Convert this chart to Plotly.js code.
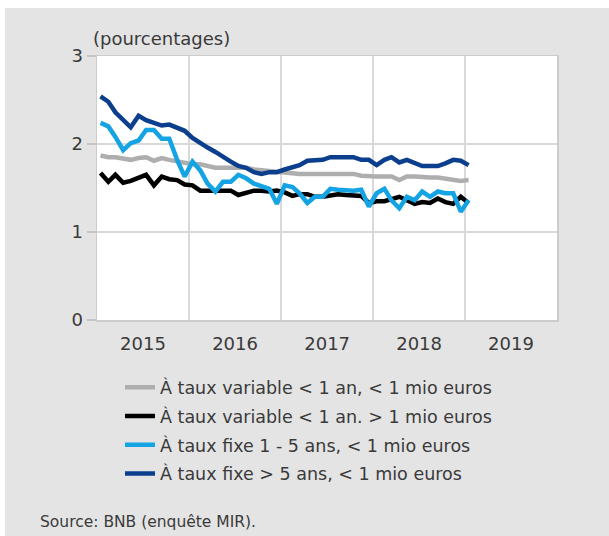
<!DOCTYPE html>
<html>
<head>
<meta charset="utf-8">
<script src="https://cdn.plot.ly/plotly-3.0.1.min.js"></script>
<style>
  html, body { margin: 0; padding: 0; background: #ffffff; width: 609px; height: 536px; overflow: hidden; }
  #chart { position: absolute; left: 5px; top: 8px; width: 604px; height: 528px; }
</style>
</head>
<body>
<div id="chart"></div>
<script>
// Monthly observations, Jan 2015 – Jan 2019
const months = [
  "2015-01-15","2015-02-15","2015-03-15","2015-04-15","2015-05-15","2015-06-15",
  "2015-07-15","2015-08-15","2015-09-15","2015-10-15","2015-11-15","2015-12-15",
  "2016-01-15","2016-02-15","2016-03-15","2016-04-15","2016-05-15","2016-06-15",
  "2016-07-15","2016-08-15","2016-09-15","2016-10-15","2016-11-15","2016-12-15",
  "2017-01-15","2017-02-15","2017-03-15","2017-04-15","2017-05-15","2017-06-15",
  "2017-07-15","2017-08-15","2017-09-15","2017-10-15","2017-11-15","2017-12-15",
  "2018-01-15","2018-02-15","2018-03-15","2018-04-15","2018-05-15","2018-06-15",
  "2018-07-15","2018-08-15","2018-09-15","2018-10-15","2018-11-15","2018-12-15",
  "2019-01-15"
];

const variableSmall = [
  1.87,1.85,1.85,1.84,1.82,1.84,1.85,1.81,1.84,1.82,1.80,1.78,
  1.77,1.77,1.75,1.73,1.73,1.73,1.73,1.73,1.71,1.70,1.70,1.68,
  1.67,1.66,1.66,1.66,1.66,1.66,1.67,1.66,1.66,1.66,1.64,1.63,
  1.63,1.63,1.63,1.59,1.63,1.63,1.62,1.62,1.62,1.61,1.60,1.58,
  1.59
];

const variableLarge = [
  1.67,1.57,1.65,1.56,1.58,1.61,1.65,1.53,1.63,1.60,1.59,1.54,
  1.53,1.47,1.47,1.46,1.46,1.47,1.42,1.45,1.47,1.47,1.46,1.47,
  1.45,1.41,1.43,1.43,1.40,1.40,1.42,1.43,1.42,1.41,1.41,1.33,
  1.35,1.35,1.37,1.40,1.36,1.32,1.34,1.33,1.38,1.34,1.32,1.40,
  1.33
];

const fixed1to5 = [
  2.24,2.20,2.08,1.93,2.01,2.04,2.16,2.16,2.06,2.06,1.82,1.63,
  1.80,1.70,1.55,1.46,1.57,1.57,1.65,1.61,1.55,1.52,1.49,1.32,
  1.53,1.51,1.44,1.33,1.40,1.40,1.49,1.48,1.47,1.47,1.48,1.29,
  1.44,1.49,1.36,1.27,1.40,1.36,1.46,1.40,1.46,1.44,1.44,1.23,
  1.36
];

const fixedOver5 = [
  2.54,2.48,2.36,2.27,2.19,2.32,2.27,2.24,2.21,2.22,2.19,2.15,
  2.07,2.01,1.96,1.91,1.85,1.80,1.75,1.73,1.68,1.66,1.68,1.68,
  1.71,1.74,1.76,1.81,1.81,1.82,1.85,1.85,1.85,1.85,1.82,1.82,
  1.76,1.82,1.85,1.79,1.82,1.78,1.75,1.75,1.75,1.78,1.82,1.81,
  1.76
];

const seriesNames = [
  "À taux variable < 1 an, < 1 mio euros",
  "À taux variable < 1 an. > 1 mio euros",
  "À taux fixe 1 - 5 ans, < 1 mio euros",
  "À taux fixe > 5 ans, < 1 mio euros"
];
const seriesColors = ["#aeaeae", "#000000", "#14a3e3", "#0b3f8d"];
const seriesValues = [variableSmall, variableLarge, fixed1to5, fixedOver5];

const yTickVals = [0, 1, 2, 3];
const yTickText = ["0", "1", "2", "3"];

const FONT = "DejaVu Sans, Open Sans, sans-serif";
const TEXT = "#3a3a3a";

const traces = seriesValues.map((vals, k) => ({
  type: "scatter",
  mode: "lines",
  x: months,
  y: vals,
  name: seriesNames[k],
  legendgroup: "g" + k,
  line: { color: seriesColors[k], width: 4.5 },
  hoverinfo: "skip"
}));

const layout = {
  width: 604,
  height: 528,
  margin: { l: 92, r: 52, t: 48, b: 216 },
  paper_bgcolor: "#e4e4e4",
  plot_bgcolor: "#ffffff",
  font: { family: FONT, color: TEXT },
  showlegend: true,
  legend: {
    x: 0.05, xanchor: "left",
    y: -0.187, yanchor: "top",
    bgcolor: "rgba(0,0,0,0)",
    font: { family: FONT, size: 17.5, color: TEXT },
    tracegroupgap: 3,
    traceorder: "grouped"
  },
  xaxis: {
    type: "date",
    range: ["2015-01-01", "2020-01-01"],
    tick0: "2015-01-01",
    dtick: "M12",
    tickformat: "%Y",
    ticklabelmode: "period",
    ticks: "",
    ticklabelstandoff: 7,
    showgrid: true,
    gridcolor: "#d9d9d9",
    gridwidth: 1.5,
    showline: true,
    linecolor: "#cccccc",
    linewidth: 1.5,
    mirror: true,
    zeroline: false,
    tickfont: { family: FONT, size: 18, color: TEXT },
    fixedrange: true
  },
  yaxis: {
    range: [0, 3],
    tickvals: yTickVals,
    ticktext: yTickText,
    ticks: "outside",
    ticklen: 9,
    tickwidth: 1.5,
    tickcolor: "#c4c4c4",
    showgrid: true,
    gridcolor: "#d9d9d9",
    gridwidth: 1.5,
    showline: true,
    linecolor: "#cccccc",
    linewidth: 1.5,
    mirror: true,
    zeroline: false,
    tickfont: { family: FONT, size: 18, color: TEXT },
    fixedrange: true
  },
  annotations: [
    {
      text: "(pourcentages)",
      xref: "paper", yref: "paper",
      x: 0, y: 1,
      xanchor: "left", yanchor: "middle",
      xshift: -6, yshift: 18,
      showarrow: false,
      font: { family: FONT, size: 18, color: TEXT }
    },
    {
      text: "Source: BNB (enquête MIR).",
      xref: "paper", yref: "paper",
      x: 0, y: 0,
      xanchor: "left", yanchor: "middle",
      xshift: -59, yshift: -202,
      showarrow: false,
      font: { family: FONT, size: 15.5, color: TEXT }
    }
  ]
};

Plotly.newPlot("chart", traces, layout, { staticPlot: true, displayModeBar: false });
</script>
</body>
</html>
